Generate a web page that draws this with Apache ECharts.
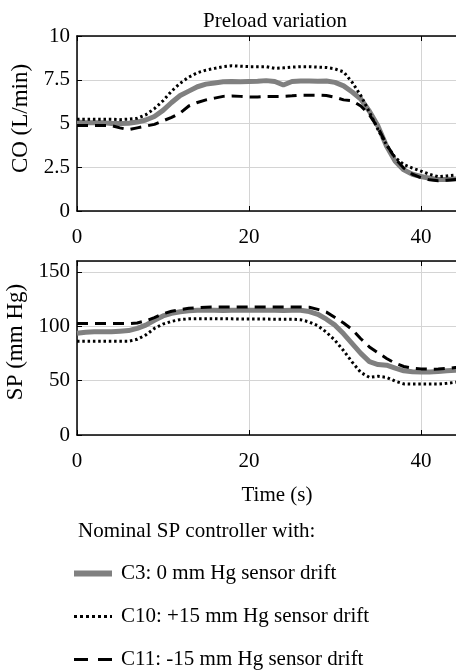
<!DOCTYPE html>
<html><head><meta charset="utf-8">
<script src="https://cdn.jsdelivr.net/npm/echarts@6/dist/echarts.min.js"></script>
<style>html,body{margin:0;padding:0;background:#fff}#c{width:456px;height:671px}</style>
</head><body><div id="c"></div>
<script>
// ---- data ----
const time = [0,1,2,3,4,5,6,7,8,9,10,11,12,13,14,15,16,17,18,19,20,21,22,23,24,25,26,27,28,29,30,31,32,33,34,35,36,37,38,39,40,41,42,43,44,45];
const coC3  = [5.08,5.05,5.05,5.05,5.0,5.0,5.02,5.08,5.2,5.4,5.75,6.2,6.6,6.85,7.1,7.25,7.32,7.38,7.4,7.38,7.4,7.42,7.45,7.4,7.2,7.4,7.43,7.43,7.42,7.43,7.35,7.15,6.8,6.4,5.7,4.85,3.7,2.85,2.35,2.1,1.97,1.87,1.8,1.8,1.83,1.85];
const coC10 = [5.25,5.25,5.25,5.25,5.25,5.22,5.25,5.3,5.5,5.85,6.3,6.85,7.3,7.65,7.9,8.05,8.15,8.25,8.3,8.27,8.25,8.25,8.25,8.15,8.18,8.22,8.25,8.25,8.22,8.2,8.12,7.95,7.35,6.6,5.65,4.65,3.77,3.05,2.65,2.45,2.28,2.1,1.96,2.0,2.05,2.05];
const coC11 = [4.88,4.88,4.88,4.88,4.88,4.75,4.65,4.75,4.85,4.95,5.15,5.35,5.6,6.0,6.2,6.35,6.45,6.55,6.57,6.55,6.52,6.52,6.55,6.55,6.55,6.58,6.62,6.62,6.62,6.6,6.5,6.35,6.3,6.0,5.5,4.75,3.8,3.0,2.45,2.1,1.9,1.78,1.73,1.76,1.8,1.82];
const spC3  = [93.5,94.5,95,95,95,95.5,96,98,101,105.5,109.5,111.8,113.3,114.3,114.7,114.8,114.7,114.5,114.8,114.7,114.7,114.7,114.7,114.7,114.5,114.7,114.7,113.5,111,106.5,101,93,84,75,67.5,64.8,64.2,61.5,59,58.2,58,58,58.3,59,59.6,60];
const spC10 = [86.2,86.2,86.2,86.2,86.2,86.2,86.2,88,92,98,102,104.5,106.1,106.8,107,107,107,106.8,106.8,106.6,106.6,106.6,106.6,106.5,106.5,106.5,106,104,100.5,94.5,87,77.5,67,57.5,53,54,53,49.5,47,46.8,46.8,46.8,46.8,47.5,48.5,49];
const spC11 = [102.5,102.5,102.5,102.5,102.5,102.5,102.5,103,105,108,111.5,113.8,115.3,116.5,117,117.5,117.7,117.7,117.7,117.7,117.7,117.7,117.7,117.7,117.7,117.7,117.7,117.5,115.5,113,108,103,97,88.5,81,75.5,70.4,66,63,61.5,60.8,60.5,60.6,61.2,62,62.3];
const xTicks = [0,20,40];
const coTicks = [0,2.5,5,7.5,10];
const spTicks = [0,50,100,150];
const names = ['C3: 0 mm Hg sensor drift','C10: +15 mm Hg sensor drift','C11: -15 mm Hg sensor drift'];

const FF = '"Liberation Serif", "Times New Roman", serif';
const pair = arr => time.map((t,i)=>[t,arr[i]]);

function xAx(g, pos){
  return {
    gridIndex:g, type:'value', min:0, max:50, interval:20, position:pos,
    axisLine:{show:true, onZero:false, lineStyle:{color:'#000', width:1.5}},
    axisTick:{show:true, inside:true, length:5, lineStyle:{color:'#000', width:1}},
    axisLabel:{show:pos==='bottom', fontSize:21, color:'#000', fontFamily:FF, margin:16,
      formatter:v=> xTicks.includes(v)? String(v):''},
    splitLine:{show:pos==='bottom', lineStyle:{color:'#d4d4d4', width:1}}
  };
}
function yAx(g, max, interval, ticks, name, shift){
  return {
    gridIndex:g, type:'value', min:0, max:max, interval:interval,
    name:name, nameLocation:'middle', nameRotate:90, nameGap:33,
    nameTextStyle:{fontSize:23, color:'#000', fontFamily:FF, padding:[0,0,0,shift]},
    axisLine:{show:true, onZero:false, lineStyle:{color:'#000', width:1.5}},
    axisTick:{show:true, inside:true, length:5, lineStyle:{color:'#000', width:1}},
    axisLabel:{fontSize:21, color:'#000', fontFamily:FF, margin:7, showMaxLabel: ticks.includes(max),
      formatter:v=> ticks.includes(v)? String(v):''},
    splitLine:{show:true, lineStyle:{color:'#d4d4d4', width:1}}
  };
}
const styles = [
  {color:'#808080', width:5, type:'solid'},
  {color:'#000', width:3, type:[2.5,2.8]},
  {color:'#000', width:3, type:[11,7]}
];
function ser(name, g, arr, st, z){
  return {name:name, type:'line', xAxisIndex:g*2, yAxisIndex:g, data:pair(arr),
    symbol:'none', showSymbol:false, lineStyle:st, itemStyle:{color:st.color}, z:z, animation:false};
}

const chart = echarts.init(document.getElementById('c'), null, {renderer:'canvas'});
chart.setOption({
  backgroundColor:'#fff',
  animation:false,
  title:[
    {text:'Preload variation', left:270, top:6, textAlign:'center', textStyle:{fontSize:21, fontWeight:'normal', color:'#000', fontFamily:FF}},
    {text:'Time (s)', left:272, top:480, textAlign:'center', textStyle:{fontSize:21, fontWeight:'normal', color:'#000', fontFamily:FF}},
    {text:'Nominal SP controller with:', left:73, top:516, textStyle:{fontSize:21, fontWeight:'normal', color:'#000', fontFamily:FF}}
  ],
  grid:[
    {left:77, top:36, right:-51, height:175, outerBoundsMode:'none', containLabel:false},
    {left:77, top:261, right:-51, height:174, outerBoundsMode:'none', containLabel:false}
  ],
  xAxis:[xAx(0,'bottom'), xAx(0,'top'), xAx(1,'bottom'), xAx(1,'top')],
  yAxis:[yAx(0,10,2.5,coTicks,'CO (L/min)',10), yAx(1,160,50,spTicks,'SP (mm Hg)',12)],
  legend:{
    orient:'vertical', left:66, top:558, height:140, itemWidth:38, itemHeight:12, itemGap:22,
    data:[
      {name:names[0], lineStyle:{color:'#808080', width:6, type:'solid'}},
      {name:names[1], lineStyle:{color:'#000', width:3, type:[3,3]}},
      {name:names[2], lineStyle:{color:'#000', width:3, type:[14,10]}}
    ],
    selectedMode:false,
    lineStyle:{width:'inherit'},
    itemStyle:{color:'rgba(0,0,0,0)', borderColor:'rgba(0,0,0,0)', borderWidth:0, opacity:0},
    textStyle:{fontSize:21, color:'#000', fontFamily:FF, padding:[0,0,0,4]}
  },
  series:[
    ser(names[0],0,coC3,styles[0],1), ser(names[1],0,coC10,styles[1],2), ser(names[2],0,coC11,styles[2],3),
    ser(names[0],1,spC3,styles[0],1), ser(names[1],1,spC10,styles[1],2), ser(names[2],1,spC11,styles[2],3)
  ]
});
</script></body></html>
